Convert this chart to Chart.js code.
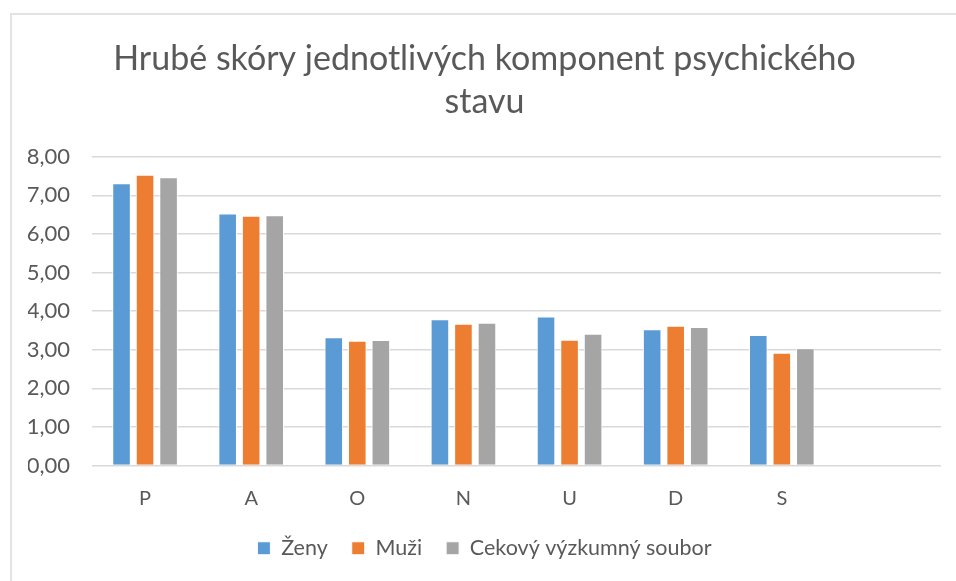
<!DOCTYPE html>
<html>
<head>
<meta charset="utf-8">
<script src="https://cdn.jsdelivr.net/npm/chart.js@4"></script>
<style>
  html, body { margin: 0; padding: 0; background: #fff; overflow: hidden; }
  #ramec {
    position: absolute; left: 10px; top: 13px; width: 1000px; height: 620px;
    border-left: 2px solid #e3e3e3; border-top: 2px solid #e3e3e3;
  }
  #obal { position: absolute; left: 0; top: 0; width: 956px; height: 581px; }
</style>
</head>
<body>
<div id="ramec"></div>
<div id="obal"><canvas id="graf"></canvas></div>
<script>
// --- data ---
const kategorie = ['P', 'A', 'O', 'N', 'U', 'D', 'S', ''];
const zeny  = [7.31, 6.53, 3.32, 3.79, 3.86, 3.53, 3.38, null];
const muzi  = [7.53, 6.47, 3.23, 3.67, 3.26, 3.62, 2.92, null];
const celek = [7.47, 6.48, 3.25, 3.70, 3.41, 3.59, 3.04, null];
const tickyY = [0, 1, 2, 3, 4, 5, 6, 7, 8];

const barvy = { modra: '#5B9BD5', oranzova: '#ED7D31', seda: '#A5A5A5', text: '#595959', mrizka: '#d9d9d9' };
const pismo = 'Lato, "Open Sans", sans-serif';

const formatCisla = v => v.toFixed(2).replace('.', ',');

const ctx = document.getElementById('graf').getContext('2d');
new Chart(ctx, {
    type: 'bar',
    data: {
        labels: kategorie,
        datasets: [
            { label: 'Ženy', data: zeny, backgroundColor: barvy.modra },
            { label: 'Muži', data: muzi, backgroundColor: barvy.oranzova },
            { label: 'Cekový výzkumný soubor', data: celek, backgroundColor: barvy.seda }
        ].map(d => Object.assign(d, { borderColor: '#ffffff', borderWidth: 1, categoryPercentage: 0.665, barPercentage: 0.79 }))
    },
    options: {
        responsive: true,
        maintainAspectRatio: false,
        animation: false,
        layout: { padding: { left: 28, right: 15, top: 0, bottom: 12 } },
        plugins: {
            title: {
                display: true,
                text: ['Hrubé skóry jednotlivých komponent psychického', 'stavu'],
                color: barvy.text,
                font: { family: pismo, size: 34, weight: 'normal', lineHeight: 1.26 },
                padding: { top: 38, bottom: 33 }
            },
            legend: {
                position: 'bottom',
                labels: {
                    color: barvy.text,
                    font: { family: pismo, size: 21.5 },
                    boxWidth: 13, boxHeight: 13,
                    padding: 24
                }
            },
            tooltip: { enabled: false }
        },
        scales: {
            x: {
                grid: { display: false },
                border: { display: false },
                ticks: { color: barvy.text, font: { family: pismo, size: 20 }, padding: 13 },
                afterFit: s => { s.height = 48; }
            },
            y: {
                min: 0, max: 8,
                afterBuildTicks: s => { s.ticks = tickyY.map(v => ({ value: v })); },
                grid: { color: barvy.mrizka, lineWidth: 1.5, drawTicks: false },
                border: { display: false },
                ticks: { color: barvy.text, font: { family: pismo, size: 22 }, padding: 22, callback: v => formatCisla(v) },
                afterFit: s => { s.width = 64; }
            }
        }
    }
});
</script>
</body>
</html>
